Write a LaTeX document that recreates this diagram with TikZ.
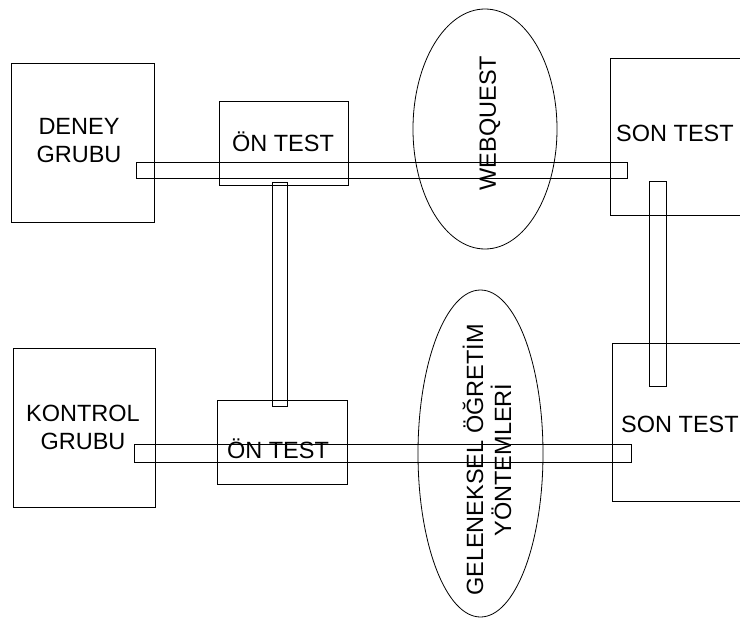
\documentclass[tikz,border=0pt]{standalone}
\usepackage{fontspec}
\setmainfont{Liberation Sans}
\usetikzlibrary{shapes.geometric}
\begin{document}
\begin{tikzpicture}[x=1pt,y=-1pt,
  box/.style={draw, line width=0.9pt, inner sep=0pt},
  bar/.style={draw, line width=0.9pt},
  oval/.style={draw, ellipse, line width=0.8pt, inner sep=0pt},
  lbl/.style={font=\fontsize{23.5}{28}\selectfont, align=center, inner sep=0pt}]
\useasboundingbox (0,0) rectangle (740,619);
% boxes
\node[box, minimum width=143, minimum height=159] (deney) at (82.5,142.5) {};
\node[box, minimum width=129, minimum height=84] (on1) at (283.5,143) {};
\node[box, minimum width=146, minimum height=157] (son1) at (683,136.5) {};
\node[box, minimum width=142, minimum height=159] (kontrol) at (84,427.5) {};
\node[box, minimum width=130, minimum height=84] (on2) at (282,442) {};
\node[box, minimum width=146, minimum height=158] (son2) at (685,422) {};
% ellipses
\node[oval, minimum width=144, minimum height=240] (web) at (485,129) {};
\node[oval, minimum width=125, minimum height=327] (gel) at (480.5,453.5) {};
% bars
\draw[bar] (136,162) rectangle (627,178);
\draw[bar] (272,182) rectangle (287,406);
\draw[bar] (649,181) rectangle (666,386);
\draw[bar] (134,444) rectangle (631,462);
% labels
\node[lbl] (tdeney) at (79,141) {DENEY\\GRUBU};
\node[lbl] (ton1) at (283,142) {ÖN TEST};
\node[lbl, rotate=90] (tweb) at (490,123) {WEBQUEST};
\node[lbl] (tson1) at (675,133) {SON TEST};
\node[lbl] (tkontrol) at (83,427) {KONTROL\\GRUBU};
\node[lbl] (ton2) at (278,449) {ÖN TEST};
\node[lbl, rotate=90] (tgel) at (487,460) {GELENEKSEL ÖĞRETİM\\YÖNTEMLERİ};
\node[lbl] (tson2) at (680,424) {SON TEST};
\end{tikzpicture}
\end{document}
